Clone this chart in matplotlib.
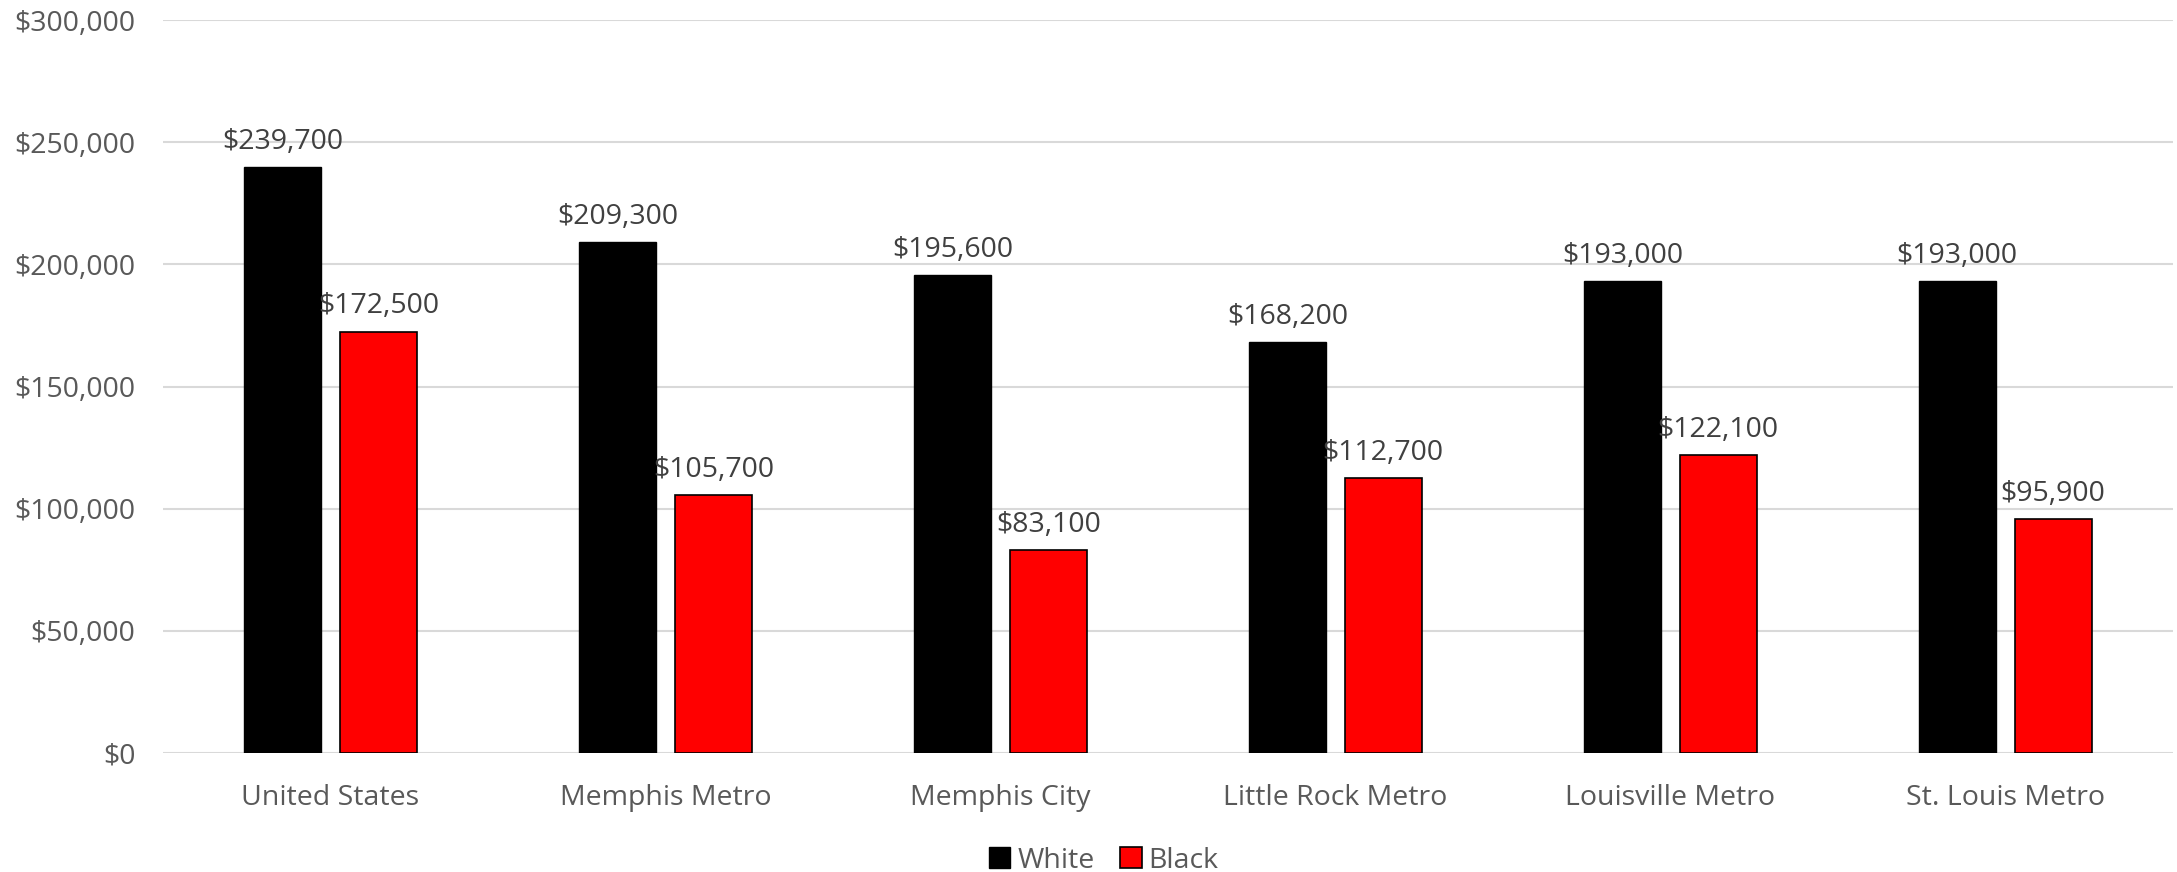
import numpy as np
import matplotlib.pyplot as plt
from matplotlib.ticker import FuncFormatter

regions = ["United States", "Memphis Metro", "Memphis City",
           "Little Rock Metro", "Louisville Metro", "St. Louis Metro"]
white = [239700, 209300, 195600, 168200, 193000, 193000]
black = [172500, 105700, 83100, 112700, 122100, 95900]

plt.rcParams['font.family'] = ['Open Sans', 'DejaVu Sans']
text_grey = '#595959'
fs = 20.5

fig = plt.figure(figsize=(21.77, 8.72), dpi=100)
ax = fig.add_axes([0.0749, 0.1365, 0.9231, 0.8405])

x = np.arange(len(regions))
w = 0.23
off = 0.143
b1 = ax.bar(x - off, white, w, color='black', edgecolor='black', linewidth=1, label='White', zorder=3)
b2 = ax.bar(x + off, black, w, color='#ff0000', edgecolor='black', linewidth=1.2, label='Black', zorder=3)

fmt = lambda v: f"${v:,.0f}"
for bars in (b1, b2):
    ax.bar_label(bars, labels=[fmt(v) for v in bars.datavalues], padding=8,
                 fontsize=fs, color='#404040')

ax.set_xlim(-0.5, len(regions) - 0.5)
ax.set_ylim(0, 300000)
ax.set_yticks(np.arange(0, 300001, 50000))
ax.yaxis.set_major_formatter(FuncFormatter(lambda v, p: fmt(v)))
ax.set_xticks(x)
ax.set_xticklabels(regions)
ax.tick_params(axis='both', length=0, labelsize=fs, labelcolor=text_grey)
ax.tick_params(axis='y', pad=20)
ax.tick_params(axis='x', pad=22)
ax.grid(axis='y', color='#d9d9d9', linewidth=1.5, zorder=0)
for s in ax.spines.values():
    s.set_visible(False)

leg = fig.legend(handles=[b1, b2], loc='center', bbox_to_anchor=(0.507, 0.013), ncol=2,
                 frameon=False, fontsize=fs, handlelength=0.75, handleheight=0.75,
                 handletextpad=0.25, columnspacing=0.9)
for t in leg.get_texts():
    t.set_color(text_grey)

fig.savefig('out.png', dpi=100)
